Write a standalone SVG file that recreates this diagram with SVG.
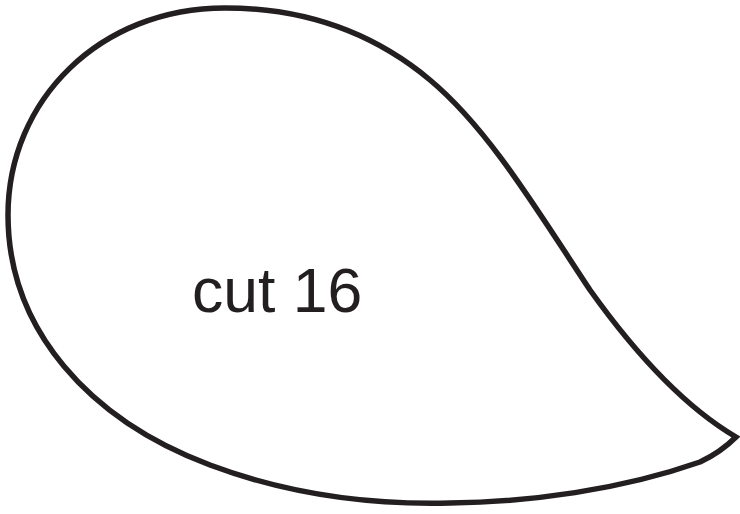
<svg xmlns="http://www.w3.org/2000/svg" width="740" height="514" viewBox="0 0 740 514">
<style>
.outline{fill:#ffffff;stroke:#231f20;stroke-width:5.5;stroke-linejoin:miter}
.label{font-family:"Liberation Sans",Arial,sans-serif;font-size:62.5px;fill:#231f20}
</style>
<rect width="740" height="514" fill="#ffffff"/>
<g id="shape">
<path class="outline" d="M 736,437 C 690,410 640,360 590,290 C 540,215 490,130 430,80 C 370,30 300,8 225,8 C 100,8 8,100 8,215 C 8,330 90,420 210,465 C 290,495 370,505 450,503 C 530,502 620,490 700,462 C 715,455 728,445 736,437 Z"/>
<text class="label" x="192" y="312">cut 16</text>
</g>
</svg>
